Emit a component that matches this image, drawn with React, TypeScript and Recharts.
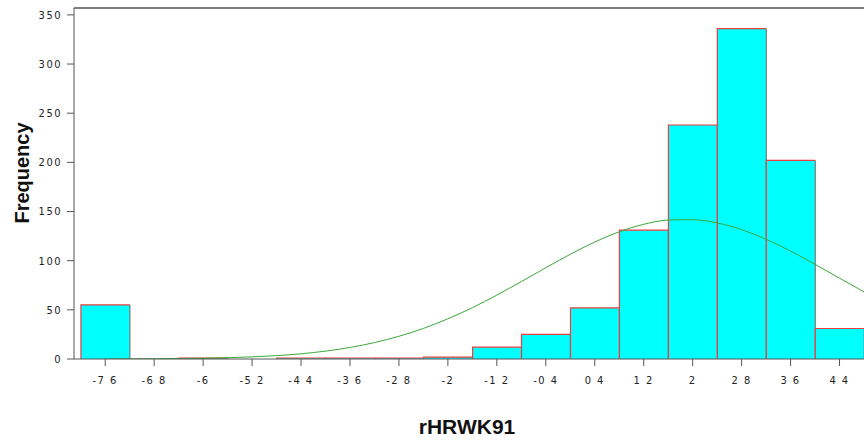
import { ComposedChart, Bar, Line, XAxis, YAxis, ReferenceLine, Label } from "recharts";

// histogram bins (centres) and counts
const binCenters = [-7.6, -6.8, -6, -5.2, -4.4, -3.6, -2.8, -2, -1.2, -0.4, 0.4, 1.2, 2, 2.8, 3.6, 4.4];
const binCounts = [55, 0, 1, 0, 1, 1, 1, 2, 12, 25, 52, 131, 238, 336, 202, 31];
const binLabels = ["-7 6", "-6 8", "-6", "-5 2", "-4 4", "-3 6", "-2 8", "-2", "-1 2", "-0 4", "0 4", "1 2", "2", "2 8", "3 6", "4 4"];

// normal curve
const curveX = [
  -7.6, -7.2, -6.8, -6.4, -6, -5.6, -5.2, -4.8, -4.4, -4, -3.6, -3.2, -2.8, -2.4, -2, -1.6,
  -1.2, -0.8, -0.4, 0, 0.4, 0.8, 1.2, 1.6, 2, 2.4, 2.8, 3.2, 3.6, 4, 4.4, 4.8,
];
const curveY = [
  0.1, 0.2, 0.3, 0.5, 0.8, 1.3, 2.2, 3.4, 5.3, 8, 11.7, 16.7, 23.1, 31.1, 40.9, 52.2,
  65, 78.7, 92.8, 106.5, 119, 129.4, 137, 141.3, 141.7, 138.4, 131.6, 121.8, 109.8, 96.3, 82.2, 68.3,
];

const yTicks = [0, 50, 100, 150, 200, 250, 300, 350];

const W = 864;
const H = 441;
const PLOT_LEFT = 74;
const X_MIN = -8.11;
const X_MAX = 4.8;
const BIN = 0.8;
const binPx = ((W - PLOT_LEFT) * BIN) / (X_MAX - X_MIN);

const data = curveX.map((x, i) => {
  const b = binCenters.findIndex((c) => Math.abs(c - x) < 1e-6);
  return { x, curve: curveY[i], freq: b >= 0 ? binCounts[b] : null };
});

const tickFont = { fontSize: 11, fill: "#222", fontFamily: "DejaVu Sans Condensed", letterSpacing: 1.5 };

function HistBar(props: any) {
  const { x, y, width, height, payload } = props;
  if (payload == null || !payload.freq) return null;
  const cx = x + width / 2;
  const l = cx - binPx / 2;
  const r = cx + binPx / 2;
  const b = y + height;
  return (
    <g>
      <rect x={l} y={y} width={binPx} height={height} fill="#00ffff" />
      <path d={`M${l},${b} L${l},${y} L${r},${y}`} stroke="#f03c3c" fill="none" strokeWidth={1.2} />
      <line x1={r} y1={y} x2={r} y2={b} stroke="#777" strokeWidth={1.2} />
    </g>
  );
}

export default function App() {
  return (
    <div style={{ position: "absolute", left: 0, top: 0, width: W, height: H, background: "#fff" }}>
      <ComposedChart width={W} height={H} data={data} margin={{ top: 8, right: 0, left: 8, bottom: 7 }}>
        <XAxis
          dataKey="x"
          type="number"
          domain={[X_MIN, X_MAX]}
          allowDataOverflow
          ticks={binCenters}
          interval={0}
          tickFormatter={(v: number) => binLabels[binCenters.findIndex((c) => Math.abs(c - v) < 1e-6)] ?? ""}
          tick={tickFont}
          tickSize={7}
          tickMargin={10}
          height={75}
          stroke="#555"
        >
          <Label
            content={() => (
              <text x={467} y={434} textAnchor="middle" fontFamily="Liberation Sans" fontWeight="bold" fontSize={21} fill="#111">
                rHRWK91
              </text>
            )}
          />
        </XAxis>
        <YAxis
          type="number"
          domain={[0, 357]}
          allowDataOverflow
          ticks={yTicks}
          interval={0}
          tick={tickFont}
          tickSize={7}
          tickMargin={5}
          width={66}
          stroke="#555"
        >
          <Label
            content={() => (
              <text transform="translate(29,173) rotate(-90)" textAnchor="middle" fontFamily="Liberation Sans" fontWeight="bold" fontSize={20} fill="#111">
                Frequency
              </text>
            )}
          />
        </YAxis>
        <ReferenceLine y={357} stroke="#555" strokeWidth={1.5} ifOverflow="visible" />
        <Bar dataKey="freq" shape={HistBar} isAnimationActive={false} />
        <Line type="monotone" dataKey="curve" stroke="#3aa83a" strokeWidth={1} dot={false} isAnimationActive={false} />
      </ComposedChart>
    </div>
  );
}
